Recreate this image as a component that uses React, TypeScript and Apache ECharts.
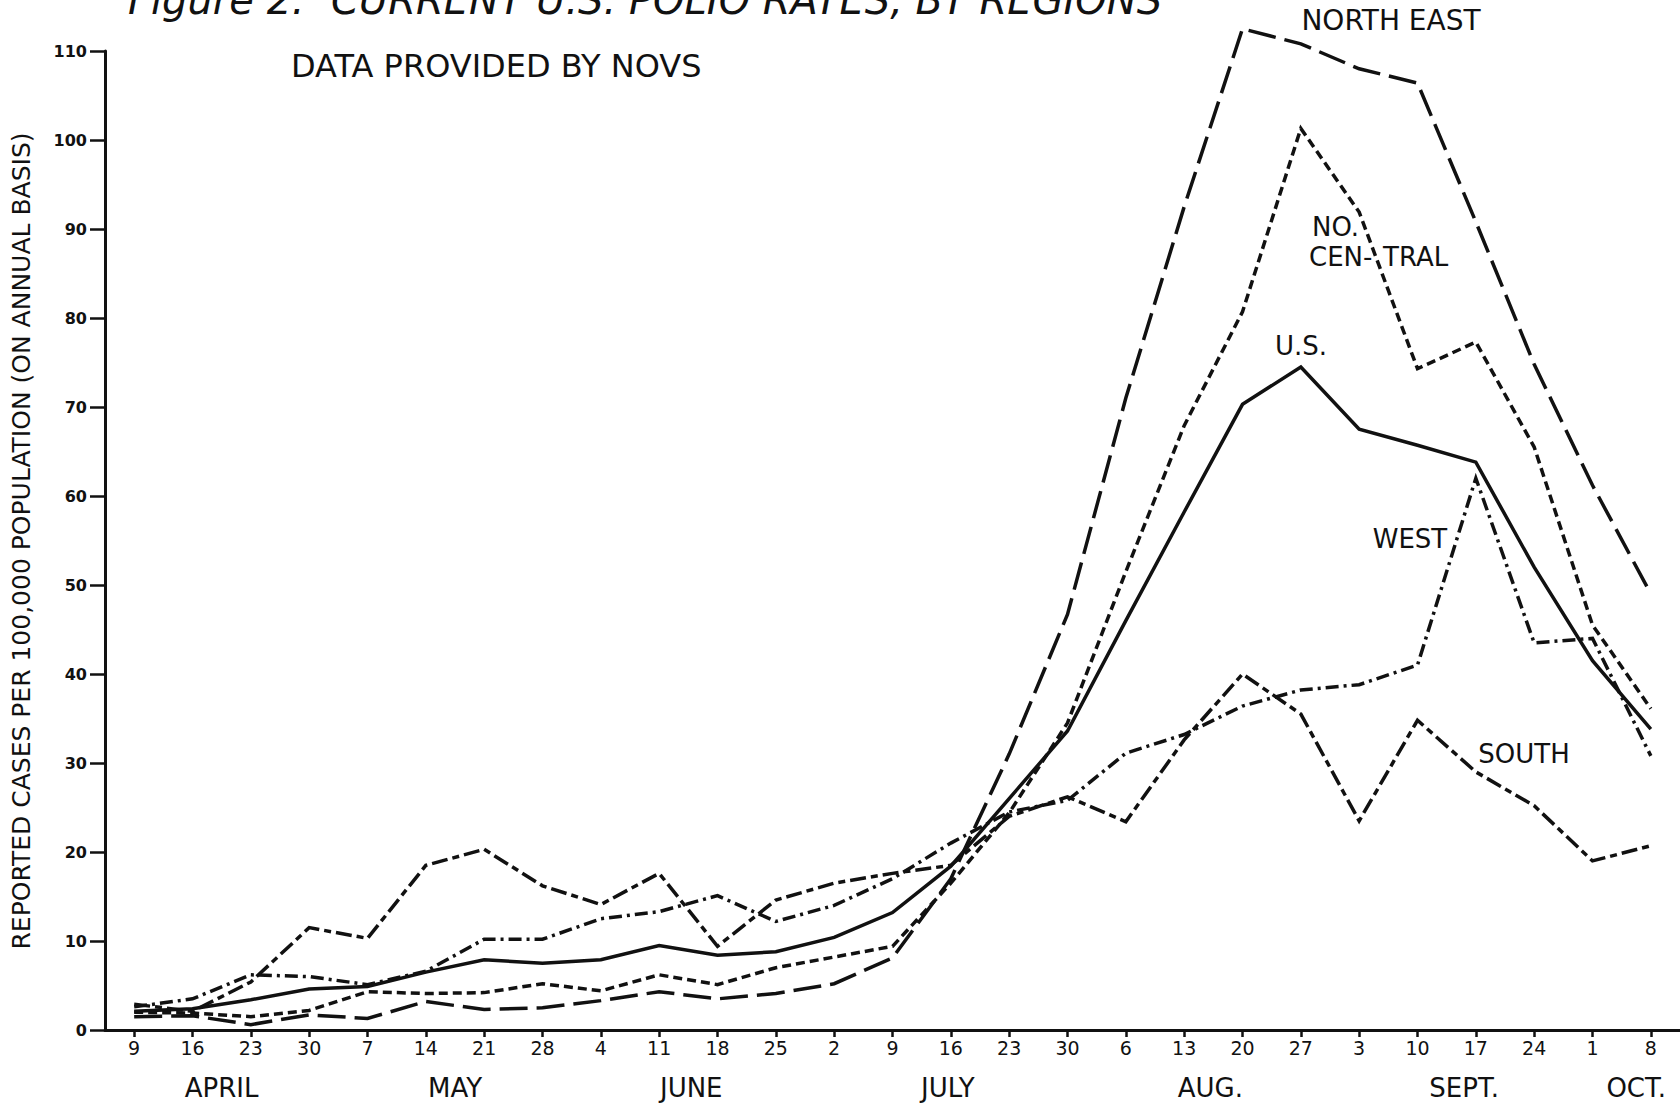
import React, { useEffect, useRef } from "react";
import * as echarts from "echarts";

const categories = [
  "Apr 9", "Apr 16", "Apr 23", "Apr 30", "May 7", "May 14", "May 21", "May 28",
  "Jun 4", "Jun 11", "Jun 18", "Jun 25", "Jul 2", "Jul 9", "Jul 16", "Jul 23",
  "Jul 30", "Aug 6", "Aug 13", "Aug 20", "Aug 27", "Sep 3", "Sep 10", "Sep 17",
  "Sep 24", "Oct 1", "Oct 8",
];
const dayLabels = [
  "9", "16", "23", "30", "7", "14", "21", "28", "4", "11", "18", "25", "2", "9",
  "16", "23", "30", "6", "13", "20", "27", "3", "10", "17", "24", "1", "8",
];
const monthLabels = ["APRIL", "MAY", "JUNE", "JULY", "AUG.", "SEPT.", "OCT."];
const monthCenters = [1.5, 5.5, 9.55, 13.95, 18.45, 22.8, 25.75];

const northEast = [1.5, 1.6, 0.6, 1.7, 1.3, 3.2, 2.3, 2.5, 3.3, 4.3, 3.5, 4.1, 5.2, 8.1, 17.0, 31.0, 46.7, 71.0, 92.5, 112.5, 110.8, 108.0, 106.4, 90.8, 74.8, 61.2, 49.0];
const northCentral = [2.0, 1.9, 1.5, 2.2, 4.3, 4.1, 4.2, 5.2, 4.4, 6.2, 5.1, 7.0, 8.2, 9.4, 16.5, 24.4, 34.5, 51.5, 67.9, 80.7, 101.3, 91.9, 74.3, 77.3, 65.5, 45.5, 36.1];
const unitedStates = [2.1, 2.4, 3.4, 4.6, 4.9, 6.5, 7.9, 7.5, 7.9, 9.5, 8.4, 8.8, 10.4, 13.2, 18.4, 26.0, 33.6, 46.0, 58.2, 70.3, 74.5, 67.5, 65.7, 63.8, 52.0, 41.5, 33.8];
const west = [2.6, 3.5, 6.2, 6.0, 5.1, 6.6, 10.2, 10.2, 12.5, 13.3, 15.1, 12.2, 14.0, 17.0, 21.0, 24.5, 25.8, 31.1, 33.2, 36.4, 38.2, 38.8, 41.0, 62.0, 43.5, 44.0, 30.8];
const south = [2.9, 2.1, 5.4, 11.5, 10.3, 18.5, 20.3, 16.2, 14.1, 17.6, 9.4, 14.6, 16.5, 17.6, 18.5, 24.0, 26.2, 23.4, 32.6, 40.0, 35.5, 23.5, 34.8, 29.0, 25.2, 19.0, 20.7];

const FONT = "DejaVu Sans";
const INK = "#111111";

export default function App() {
  const ref = useRef<HTMLDivElement>(null);

  useEffect(() => {
    if (!ref.current) return;
    const chart = echarts.init(ref.current, undefined, { renderer: "svg" });

    const line = (name: string, data: number[], type: any) => ({
      name,
      type: "line",
      data,
      symbol: "none",
      silent: true,
      clip: false,
      lineStyle: { color: INK, width: 3.5, type, cap: "butt", join: "miter" },
    });

    chart.setOption({
      animation: false,
      backgroundColor: "#ffffff",
      grid: { left: 105, right: 0, top: 51, bottom: 73, containLabel: false },
      xAxis: {
        type: "category",
        data: categories,
        boundaryGap: true,
        axisLine: { show: true, lineStyle: { color: INK, width: 3 } },
        axisTick: { show: true, alignWithLabel: true, length: 7, lineStyle: { color: INK, width: 2.5 } },
        axisLabel: {
          interval: 0,
          margin: 8,
          color: INK,
          fontFamily: FONT,
          fontSize: 19,
          formatter: (_v: string, i: number) => dayLabels[i],
        },
        splitLine: { show: false },
      },
      yAxis: {
        type: "value",
        min: 0,
        max: 110,
        interval: 10,
        axisLine: { show: true, lineStyle: { color: INK, width: 3 } },
        axisTick: { show: true, length: 15, lineStyle: { color: INK, width: 2.5 } },
        axisLabel: { margin: 18, color: INK, fontFamily: FONT, fontSize: 16, fontWeight: "bold" },
        splitLine: { show: false },
      },
      series: [
        line("NORTH EAST", northEast, [28, 9]),
        line("NO. CENTRAL", northCentral, [9, 5]),
        line("U.S.", unitedStates, "solid"),
        line("WEST", west, [13, 5, 3, 5]),
        line("SOUTH", south, [16, 5, 7, 5]),
      ],
    });

    const p0 = chart.convertToPixel({ xAxisIndex: 0 }, 0) as number;
    const p1 = chart.convertToPixel({ xAxisIndex: 0 }, categories.length - 1) as number;
    const step = (p1 - p0) / (categories.length - 1);

    const txt = (text: string, x: number, y: number, size: number, extra: any = {}) => ({
      type: "text",
      x,
      y,
      silent: true,
      style: {
        text,
        fill: INK,
        fontFamily: FONT,
        fontSize: size,
        align: "left",
        verticalAlign: "middle",
        ...extra,
      },
    });

    chart.setOption({
      graphic: [
        txt("Figure 2:  CURRENT U.S. POLIO RATES, BY REGIONS", 128, 0, 40, { fontStyle: "italic" }),
        txt("DATA PROVIDED BY NOVS", 291, 66, 32),
        {
          type: "text",
          x: 21,
          y: 541,
          rotation: Math.PI / 2,
          silent: true,
          style: {
            text: "REPORTED CASES PER 100,000 POPULATION (ON ANNUAL BASIS)",
            fill: INK,
            fontFamily: FONT,
            fontSize: 25,
            align: "center",
            verticalAlign: "middle",
          },
        },
        ...monthLabels.map((m, i) =>
          txt(m, p0 + monthCenters[i] * step, 1088, 26, { align: "center" })
        ),
        txt("NORTH EAST", 1391, 20, 28, { align: "center" }),
        txt("NO.", 1312, 227, 26),
        txt("CEN-", 1309, 257, 26),
        txt("TRAL", 1383, 257, 26),
        txt("U.S.", 1301, 346, 26, { align: "center" }),
        txt("WEST", 1410, 539, 26, { align: "center" }),
        txt("SOUTH", 1524, 754, 26, { align: "center" }),
      ],
    });

    return () => chart.dispose();
  }, []);

  return (
    <div
      ref={ref}
      style={{ position: "fixed", left: 0, top: 0, width: 1680, height: 1103, background: "#fff" }}
    />
  );
}
